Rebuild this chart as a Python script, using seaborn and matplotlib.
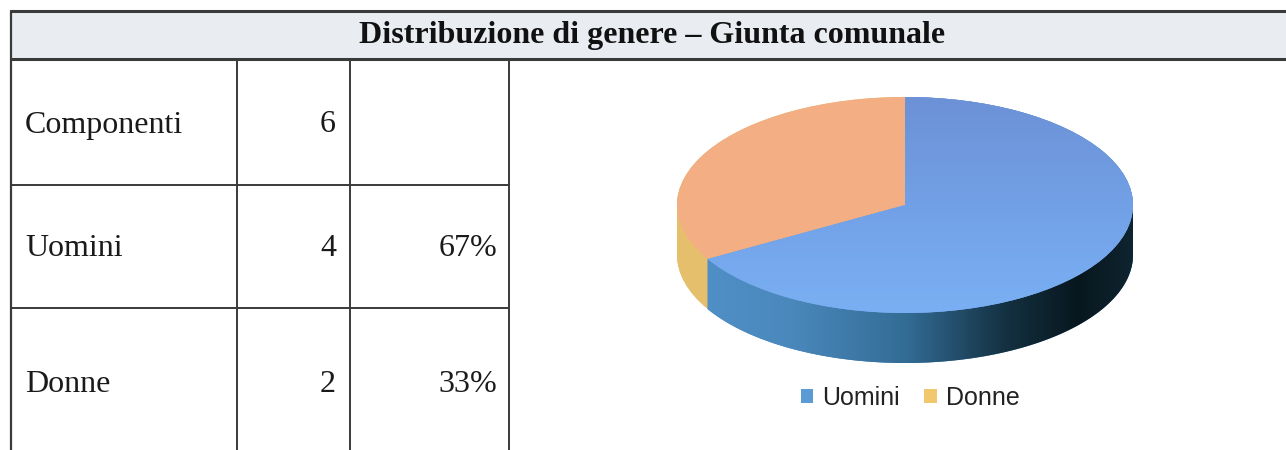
import numpy as np
import matplotlib
matplotlib.use("Agg")
import matplotlib.pyplot as plt
import seaborn as sns
from matplotlib.patches import Patch, PathPatch, Rectangle
from matplotlib.path import Path
from matplotlib.colors import LinearSegmentedColormap

# ---------------- data ----------------
title = "Distribuzione di genere \u2013 Giunta comunale"
row_labels = ["Componenti", "Uomini", "Donne"]
row_counts = [6, 4, 2]
row_percents = ["", "67%", "33%"]
pie_labels = ["Uomini", "Donne"]
pie_values = [4, 2]

# ---------------- style ----------------
sns.set_theme(style="white")
plt.rcParams["font.family"] = ["Liberation Serif", "DejaVu Serif"]

face_colors = ["#72a0e6", "#f3ae84"]
side_colors = ["#3f7fb4", "#e6bf6c"]
legend_colors = ["#5b9bd5", "#f2c86e"]

W, H = 1286, 450
fig = plt.figure(figsize=(W / 100, H / 100), dpi=100)
fig.patch.set_facecolor("white")

# ---------- table (pixel-coordinate background axes) ----------
bg = fig.add_axes([0, 0, 1, 1])
bg.set_xlim(0, W)
bg.set_ylim(H, 0)
bg.axis("off")

top_y, head_y = 11, 59
col_x = [11, 237, 350, 509]
row_y = [head_y, 185, 308, H + 5]

bg.add_patch(Rectangle((col_x[0], top_y), W - col_x[0], head_y - top_y,
                       facecolor="#e9ecf1", edgecolor="none", zorder=0))
line_kw = dict(color="#3a3a3a", zorder=2)
bg.plot([col_x[0], W], [top_y, top_y], lw=2.2, **line_kw)
bg.plot([col_x[0], W], [head_y, head_y], lw=2.2, **line_kw)
bg.plot([col_x[0], col_x[0]], [top_y, H], lw=1.6, **line_kw)
for x in col_x[1:]:
    bg.plot([x, x], [head_y, H], lw=1.4, **line_kw)
for y in row_y[1:-1]:
    bg.plot([col_x[0], col_x[-1]], [y, y], lw=1.4, **line_kw)

bg.text(652, (top_y + head_y) / 2 + 1, title, ha="center", va="center",
        fontsize=23, fontweight="bold", color="#111111")

centers = [125, 248, 385]
for lab, cnt, pct, cy in zip(row_labels, row_counts, row_percents, centers):
    bg.text(25, cy, lab, ha="left", va="center", fontsize=23, color="#1a1a1a")
    bg.text(336, cy, str(cnt), ha="right", va="center", fontsize=23, color="#1a1a1a")
    if pct:
        bg.text(497, cy, pct, ha="right", va="center", fontsize=23, color="#1a1a1a")

# ---------- 3D-looking pie ----------
cx, cy_face = 905, 205        # face centre (px)
rx, ry = 228, 108             # face half-axes (px)
depth_px = 50
depth = depth_px / ry         # depth in data units (y)
xm, ym_top, ym_bot = 1.06, 1.08, 1.0 + depth + 0.08

left = (cx - xm * rx) / W
width = 2 * xm * rx / W
top_px = cy_face - ym_top * ry
bot_px = cy_face + ym_bot * ry
ax = fig.add_axes([left, 1 - bot_px / H, width, (bot_px - top_px) / H])

start = 90
# side: stacked layers
for off in np.linspace(depth, 0, 70):
    ax.pie(pie_values, colors=side_colors, startangle=start, counterclock=False,
           center=(0, -off), radius=1, wedgeprops=dict(linewidth=0))

# gradient shading on the visible Uomini side
split = np.deg2rad(start - 360 * pie_values[0] / sum(pie_values)) % (2 * np.pi)
t = np.linspace(max(split, np.pi), 2 * np.pi, 200)
verts = np.concatenate([np.c_[np.cos(t), np.sin(t)],
                        np.c_[np.cos(t[::-1]), np.sin(t[::-1]) - depth]])
side_path = Path(np.vstack([verts, verts[:1]]),
                 [Path.MOVETO] + [Path.LINETO] * (len(verts) - 1) + [Path.CLOSEPOLY])
side_patch = PathPatch(side_path, facecolor="none", edgecolor="none")
ax.add_patch(side_patch)
side_cmap = LinearSegmentedColormap.from_list(
    "side", [(0, "#5192c9"), (0.25, "#4a88bc"), (0.5, "#336d96"),
             (0.72, "#143142"), (0.88, "#08171e"), (1.0, "#0e2430")])
grad = np.linspace(0, 1, 256)[None, :]
im = ax.imshow(grad, cmap=side_cmap, extent=(-1, 1, -1 - depth, 0.1),
               aspect="auto", zorder=3, interpolation="bilinear")
im.set_clip_path(side_patch)

# top face
wedges, _ = ax.pie(pie_values, colors=face_colors, startangle=start,
                   counterclock=False, radius=1, wedgeprops=dict(linewidth=0))
for w in wedges:
    w.set_zorder(4)
face_cmap = LinearSegmentedColormap.from_list("face", ["#6c91d6", "#72a0e6", "#7ab0f3"])
vgrad = np.linspace(0, 1, 256)[:, None]
im2 = ax.imshow(vgrad, cmap=face_cmap, extent=(-1, 1, -1, 1), origin="upper",
                aspect="auto", zorder=5, interpolation="bilinear")
im2.set_clip_path(wedges[0])

ax.set_aspect("auto")
ax.set_xlim(-xm, xm)
ax.set_ylim(-ym_bot, ym_top)
ax.axis("off")

# legend
handles = [Patch(facecolor=c, edgecolor="none") for c in legend_colors]
fig.legend(handles, pie_labels, loc="center", bbox_to_anchor=(910 / W, 1 - 398 / H),
           ncol=2, frameon=False, handlelength=0.5, handleheight=0.5,
           handletextpad=0.35, columnspacing=1.0,
           prop={"family": "Liberation Sans", "size": 18}, labelcolor="#222222")

fig.savefig("out.png", dpi=100, facecolor="white")
